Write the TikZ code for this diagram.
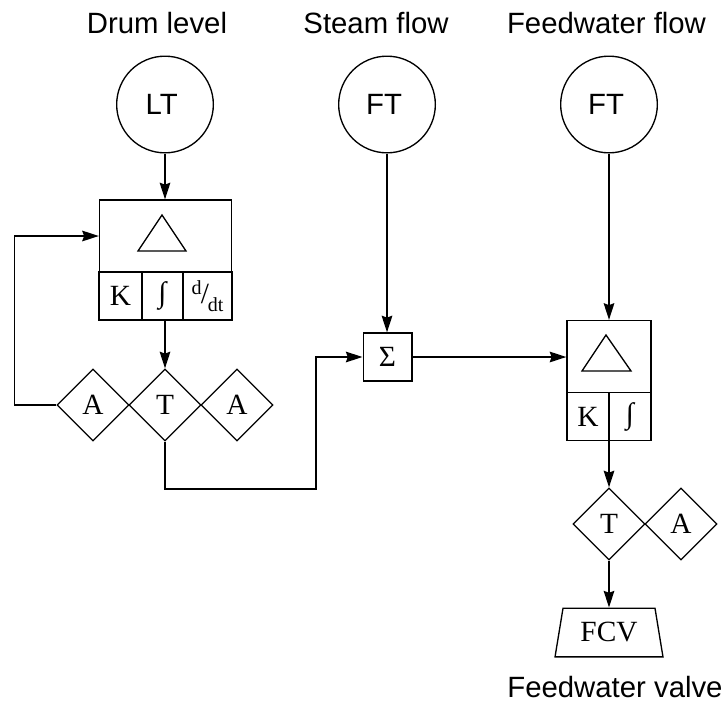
\documentclass[tikz,border=0pt]{standalone}
\usepackage{fontspec}
\setmainfont{Liberation Serif}
\newfontfamily\labelfont{Liberation Sans}
\usetikzlibrary{shapes.geometric,arrows.meta}
\tikzset{
  sigarrow/.style={-{Stealth[length=12.5pt,width=8pt,inset=1.5pt]}, line width=1.1pt},
  xmtr/.style={draw, circle, line width=1pt, minimum size=72.5pt, inner sep=0pt, font=\labelfont\fontsize{22}{22}\selectfont},
  func/.style={draw, diamond, aspect=1, line width=1pt, minimum size=54pt, inner sep=0pt, font=\fontsize{22}{22}\selectfont},
  panel/.style={draw, line width=1pt, inner sep=0pt},
  cell/.style={draw, line width=1.4pt, inner sep=0pt, font=\fontsize{22}{22}\selectfont},
  tag/.style={font=\labelfont\fontsize{22}{22}\selectfont, inner sep=0pt, anchor=base},
  errtri/.style={draw, line width=1pt},
}
\begin{document}
\begin{tikzpicture}[x=0.75pt, y=-0.75pt]
\useasboundingbox (0,0) rectangle (728,707);
\node[tag] (lvl) at (157,33) {Drum level};
\node[tag] (stm) at (376,33) {Steam flow};
\node[tag] (fwf) at (606.5,33) {Feedwater flow};
\node[xmtr] (lt) at (165,104.5) {\raisebox{-1.5pt}{LT\kern5pt}};
\node[xmtr] (fta) at (387,104.5) {\raisebox{-1.5pt}{FT\kern4.5pt}};
\node[xmtr] (ftb) at (609,104.5) {\raisebox{-1.5pt}{FT\kern4.5pt}};
% level controller
\node[panel, minimum width=99pt, minimum height=54pt] (ctla) at (165.5,236) {};
\node[cell, minimum width=32pt, minimum height=36pt] (ka) at (120.5,296) {K};
\node[cell, minimum width=31pt, minimum height=36pt] (ia) at (162.5,296) {∫};
\node[cell, minimum width=36.5pt, minimum height=36pt] (da) at (207.5,296) {\raisebox{6pt}{\fontsize{15}{15}\selectfont d}\kern-0.5pt\raisebox{-1pt}{/}\kern-1pt\raisebox{-7pt}{\fontsize{15}{15}\selectfont dt}};
\draw[errtri] (162,215) -- (186,251) -- (138,251) -- cycle;
\node[func] (aa) at (93,405) {A};
\node[func] (ta) at (165,405) {T};
\node[func] (ab) at (237,405) {A};
% summer
\node[panel, minimum width=36.5pt, minimum height=36pt, font=\fontsize{22}{22}\selectfont] (sum) at (387.5,357) {Σ};
% flow controller
\node[panel, minimum width=63pt, minimum height=54pt] (ctlb) at (609,356.5) {};
\node[cell, minimum width=31.5pt, minimum height=36pt] (kb) at (588,416.5) {K};
\node[cell, minimum width=31.5pt, minimum height=36pt] (ib) at (630,416.5) {∫};
\draw[errtri] (606,335) -- (631,371) -- (582,371) -- cycle;
\node[func] (tb) at (609,524) {T};
\node[func] (ac) at (681,524) {A};
\node[draw, trapezium, trapezium stretches=true, line width=1pt, trapezium left angle=76, trapezium right angle=76, minimum width=81pt, minimum height=36.5pt, inner sep=0pt, font=\fontsize{22}{22}\selectfont] (fcv) at (609,632.5) {\raisebox{-1.5pt}{FCV}};
\node[tag] (vlv) at (615,697) {Feedwater valve};
% signals
\draw[sigarrow] (lt) -- (lt |- ctla.north);
\draw[sigarrow] (fta) -- (fta |- sum.north);
\draw[sigarrow] (ftb) -- (ctlb);
\draw[sigarrow] (ta |- ka.south) -- (ta);
\draw[sigarrow] (aa.west) -- ++(-42,0) |- (ctla.west);
\draw[sigarrow] (ta.south) |- (316,489) |- (sum.west);
\draw[sigarrow] (sum.east) -- (ctlb.west |- sum.east);
\draw[sigarrow] (ctlb.center |- ib.south) -- (tb);
\draw[sigarrow] (tb) -- (tb |- fcv.north);
\end{tikzpicture}
\end{document}
